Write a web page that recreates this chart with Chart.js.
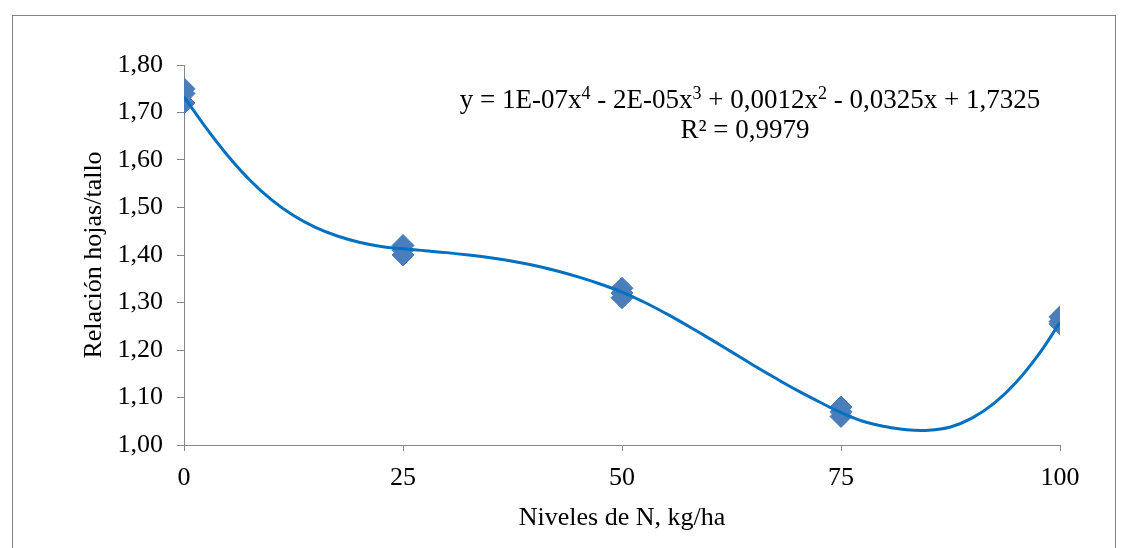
<!DOCTYPE html>
<html>
<head>
<meta charset="utf-8">
<script src="https://cdn.jsdelivr.net/npm/chart.js@4/dist/chart.umd.min.js"></script>
<style>
  html, body { margin: 0; padding: 0; background: #fff; }
  #wrap { width: 1128px; height: 548px; position: relative; }
</style>
</head>
<body>
<div id="wrap"><canvas id="grafico"></canvas></div>
<script>
// niveles de N y las tres repeticiones de relación hojas/tallo
const nivelesN = [0, 25, 50, 75, 100];
const rep1 = [1.75, 1.42, 1.33, 1.08, 1.27];
const rep2 = [1.74, 1.41, 1.32, 1.07, 1.26];
const rep3 = [1.72, 1.40, 1.31, 1.06, 1.255];

// curva de tendencia polinómica (grado 4)
const tendX = [0, 2.5, 5, 7.5, 10, 12.5, 15, 17.5, 20, 22.5, 25, 27.5, 30, 32.5, 35, 37.5, 40,
               42.5, 45, 47.5, 50, 52.5, 55, 57.5, 60, 62.5, 65, 67.5, 70, 72.5, 75, 77.5, 80,
               82.5, 85, 87.5, 90, 92.5, 95, 97.5, 100];
const tendY = [1.733, 1.668, 1.609, 1.558, 1.516, 1.483, 1.458, 1.440, 1.427, 1.418, 1.413,
               1.409, 1.405, 1.400, 1.394, 1.387, 1.378, 1.367, 1.354, 1.339, 1.322,
               1.301, 1.277, 1.251, 1.224, 1.196, 1.168, 1.141, 1.115, 1.091, 1.068,
               1.050, 1.039, 1.032, 1.031, 1.038, 1.057, 1.088, 1.132, 1.189, 1.258];

const ecuacion = [['y = 1E-07x'], ['4', 1], [' - 2E-05x'], ['3', 1], [' + 0,0012x'], ['2', 1], [' - 0,0325x + 1,7325']];
const r2 = 'R² = 0,9979';

const fuente = "'Liberation Serif', 'Times New Roman', serif";
const gris = '#868686';

const puntos = [];
nivelesN.forEach((n, i) => {
  puntos.push({x: n, y: rep1[i]});
  puntos.push({x: n, y: rep2[i]});
  puntos.push({x: n, y: rep3[i]});
});
const curva = tendX.map((x, i) => ({x: x, y: tendY[i]}));

// fondo blanco y marco exterior
const marco = {
  id: 'marco',
  beforeDraw(chart) {
    const ctx = chart.ctx;
    ctx.save();
    ctx.fillStyle = '#fff';
    ctx.fillRect(0, 0, chart.width, chart.height);
    ctx.strokeStyle = gris;
    ctx.lineWidth = 1;
    ctx.strokeRect(12.5, 15.5, 1103, 600);
    ctx.restore();
  }
};

// ecuación de la línea de tendencia con exponentes
const etiquetaEcuacion = {
  id: 'etiquetaEcuacion',
  afterDraw(chart) {
    const ctx = chart.ctx;
    const cx = 750;
    ctx.save();
    ctx.fillStyle = '#000';
    ctx.textBaseline = 'alphabetic';
    const normal = '27px ' + fuente, sup = '18px ' + fuente;
    let total = 0;
    ecuacion.forEach(s => { ctx.font = s[1] ? sup : normal; total += ctx.measureText(s[0]).width; });
    let x = cx - total / 2;
    ecuacion.forEach(s => {
      ctx.font = s[1] ? sup : normal;
      ctx.fillText(s[0], x, s[1] ? 99 : 108);
      x += ctx.measureText(s[0]).width;
    });
    ctx.font = normal;
    ctx.textAlign = 'center';
    ctx.fillText(r2, cx - 5, 138);
    ctx.restore();
  }
};

new Chart(document.getElementById('grafico'), {
  type: 'scatter',
  data: {
    datasets: [
      {
        data: curva,
        showLine: true,
        borderColor: '#0070C0',
        borderWidth: 3,
        pointRadius: 0,
        tension: 0.4,
        order: 0
      },
      {
        data: puntos,
        pointStyle: 'rectRot',
        pointRadius: 11,
        backgroundColor: '#4A7EBB',
        borderColor: '#4A7EBB',
        borderWidth: 1,
        order: 1
      }
    ]
  },
  options: {
    responsive: true,
    maintainAspectRatio: false,
    animation: false,
    layout: { padding: { left: 75, top: 65, right: 68, bottom: 10 } },
    plugins: { legend: { display: false }, tooltip: { enabled: false } },
    scales: {
      x: {
        type: 'linear',
        min: 0,
        max: 100,
        afterFit: s => { s.height = 93; },
        ticks: { stepSize: 25, color: '#000', padding: 12, font: { family: fuente, size: 26 } },
        grid: { drawOnChartArea: false, tickLength: 6, color: gris },
        border: { color: gris },
        title: { display: true, text: 'Niveles de N, kg/ha', color: '#000', font: { family: fuente, size: 26 } }
      },
      y: {
        min: 1,
        max: 1.8,
        afterFit: s => { s.width = 109; },
        ticks: {
          stepSize: 0.1,
          color: '#000',
          padding: 14,
          font: { family: fuente, size: 26 },
          callback: v => v.toFixed(2).replace('.', ',')
        },
        grid: { drawOnChartArea: false, tickLength: 7, color: gris },
        border: { color: gris },
        title: { display: true, text: 'Relación hojas/tallo', color: '#000', font: { family: fuente, size: 26 } }
      }
    }
  },
  plugins: [marco, etiquetaEcuacion]
});
</script>
</body>
</html>
